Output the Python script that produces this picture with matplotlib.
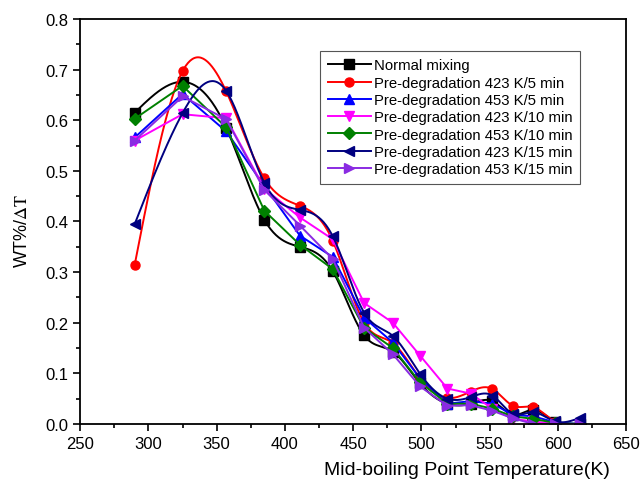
import numpy as np
import matplotlib
matplotlib.use("Agg")
from matplotlib import pyplot as plt
from matplotlib.ticker import MultipleLocator

plt.rcParams['font.family'] = ['Liberation Sans', 'DejaVu Sans']
plt.rcParams['mathtext.fontset'] = 'stix'

temps = [290, 325, 357, 385, 411, 435, 458, 479, 499, 519, 536, 552, 567, 582, 598, 616]

normal_mixing = [0.615, 0.676, 0.585, 0.403, 0.350, 0.302, 0.175, 0.143, 0.080, 0.040, 0.040, 0.045, 0.018, 0.028, 0.004, 0.000]
pd_423_5 = [0.315, 0.697, 0.657, 0.485, 0.431, 0.362, 0.200, 0.160, 0.090, 0.051, 0.064, 0.069, 0.036, 0.033, 0.004, 0.000]
pd_453_5 = [0.566, 0.652, 0.578, 0.470, 0.372, 0.330, 0.210, 0.161, 0.090, 0.040, 0.045, 0.040, 0.018, 0.015, 0.003, 0.000]
pd_423_10 = [0.560, 0.612, 0.604, 0.465, 0.408, 0.365, 0.239, 0.200, 0.135, 0.070, 0.060, 0.030, 0.010, 0.005, 0.000, 0.000]
pd_453_10 = [0.603, 0.668, 0.586, 0.421, 0.354, 0.306, 0.190, 0.150, 0.082, 0.040, 0.040, 0.030, 0.015, 0.010, 0.002, 0.000]
pd_423_15 = [0.395, 0.614, 0.658, 0.476, 0.423, 0.371, 0.220, 0.174, 0.099, 0.050, 0.053, 0.056, 0.020, 0.023, 0.005, 0.012]
pd_453_15 = [0.560, 0.647, 0.602, 0.462, 0.392, 0.326, 0.190, 0.138, 0.074, 0.036, 0.037, 0.026, 0.011, 0.000, 0.000, 0.000]

labels = ['Normal mixing',
          'Pre-degradation 423 K/5 min',
          'Pre-degradation 453 K/5 min',
          'Pre-degradation 423 K/10 min',
          'Pre-degradation 453 K/10 min',
          'Pre-degradation 423 K/15 min',
          'Pre-degradation 453 K/15 min']
series = [normal_mixing, pd_423_5, pd_453_5, pd_423_10, pd_453_10, pd_423_15, pd_453_15]
colors = ['black', 'red', 'blue', 'magenta', 'green', 'navy', '#8a2be2']
markers = ['s', 'o', '^', 'v', 'D', '<', '>']
smooth = [True, True, False, False, False, True, False]


def _natural_spline(x, y, n=40):
    # natural cubic spline through the points, used only to draw the connecting line
    x = np.asarray(x, float)
    y = np.asarray(y, float)
    k = len(x)
    h = np.diff(x)
    a = np.zeros((k, k))
    b = np.zeros(k)
    a[0, 0] = a[-1, -1] = 1
    for i in range(1, k - 1):
        a[i, i - 1] = h[i - 1]
        a[i, i] = 2 * (h[i - 1] + h[i])
        a[i, i + 1] = h[i]
        b[i] = 6 * ((y[i + 1] - y[i]) / h[i] - (y[i] - y[i - 1]) / h[i - 1])
    m = np.linalg.solve(a, b)
    xs, ys = [], []
    for i in range(k - 1):
        t = np.linspace(x[i], x[i + 1], n, endpoint=(i == k - 2))
        u1 = x[i + 1] - t
        u0 = t - x[i]
        s = (m[i] * u1 ** 3 + m[i + 1] * u0 ** 3) / (6 * h[i]) \
            + (y[i] / h[i] - m[i] * h[i] / 6) * u1 + (y[i + 1] / h[i] - m[i + 1] * h[i] / 6) * u0
        xs.append(t)
        ys.append(s)
    return np.concatenate(xs), np.concatenate(ys)


fig = plt.figure(figsize=(6.41, 4.89), dpi=100)
ax = fig.add_axes([0.125, 0.131, 0.852, 0.828])

for vals, lab, col, mk, sm in zip(series, labels, colors, markers, smooth):
    if sm:
        xs, ys = _natural_spline(temps, vals)
        ax.plot(xs, ys, color=col, lw=1.4)
        ax.plot(temps, vals, color=col, lw=0, marker=mk, ms=6.5)
        ax.plot([], [], color=col, lw=1.4, marker=mk, ms=6.5, label=lab)
    else:
        ax.plot(temps, vals, color=col, lw=1.4, marker=mk, ms=6.5, label=lab)

ax.set_xlim(250, 650)
ax.set_ylim(0, 0.8)
ax.xaxis.set_major_locator(MultipleLocator(50))
ax.xaxis.set_minor_locator(MultipleLocator(25))
ax.yaxis.set_major_locator(MultipleLocator(0.1))
ax.yaxis.set_minor_locator(MultipleLocator(0.05))
ax.yaxis.set_major_formatter(plt.FormatStrFormatter('%.1f'))
ax.tick_params(which='both', direction='out', top=False, right=False, labelsize=12, width=1.2)
ax.tick_params(which='major', length=5)
ax.tick_params(which='minor', length=3)
for sp in ax.spines.values():
    sp.set_linewidth(1.3)

ax.set_xlabel('Mid-boiling Point Temperature(K)', fontsize=14)
ax.xaxis.set_label_coords(0.709, -0.092)
ax.set_ylabel(r'WT%/$\Delta\mathrm{T}$', fontsize=13)
ax.yaxis.set_label_coords(-0.09, 0.48)

leg = ax.legend(loc='upper left', bbox_to_anchor=(0.44, 0.921), borderaxespad=0,
                fontsize=10.7, handlelength=2.9, labelspacing=0.22, handletextpad=0.2,
                borderpad=0.5, fancybox=False, framealpha=1)
leg.get_frame().set_edgecolor('#555555')
leg.get_frame().set_linewidth(0.8)

fig.savefig('out.png', dpi=100)
